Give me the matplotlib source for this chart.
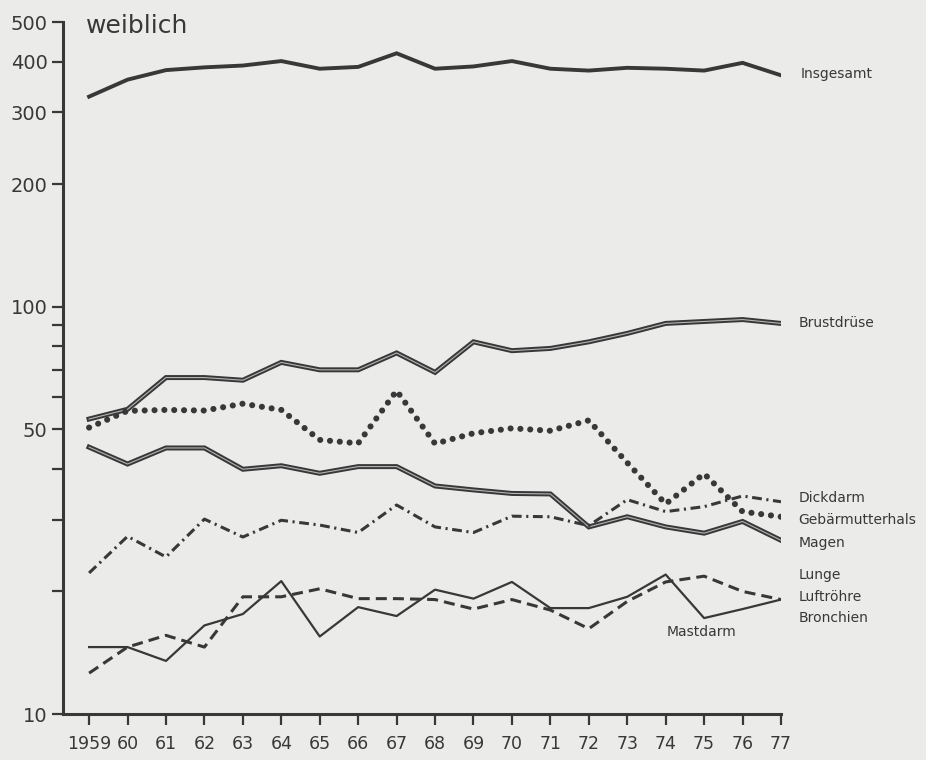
import matplotlib
matplotlib.use("Agg")
import matplotlib.pyplot as plt
from matplotlib.ticker import FixedLocator, NullFormatter

# Sterbefaelle je 100 000, weiblich (log scale)
years = list(range(1959, 1978))
insgesamt = [328, 361, 381, 387, 391, 401, 384, 388, 419, 384,
             389, 401, 384, 380, 386, 384, 380, 397, 370]
brustdruese = [53, 56, 67, 67, 66, 73, 70, 70, 77, 69,
               82, 78, 79, 82, 86, 91, 92, 93, 91]
gebaermutterhals = [50.5, 55.5, 55.8, 55.6, 57.8, 55.8, 47.1, 46.2, 62.2, 46.1,
                    48.9, 50.3, 49.6, 52.6, 41.4, 32.8, 38.9, 31.4, 30.5]
magen = [45.2, 41.1, 45.0, 45.0, 39.9, 40.7, 39.0, 40.5, 40.5, 36.3,
         35.5, 34.8, 34.7, 28.8, 30.5, 28.8, 27.8, 29.7, 26.7]
dickdarm = [22.2, 27.3, 24.3, 30.1, 27.2, 29.9, 29.1, 27.9, 32.6, 28.8,
            27.9, 30.6, 30.5, 29.0, 33.6, 31.4, 32.3, 34.3, 33.2]
mastdarm = [14.6, 14.6, 13.5, 16.5, 17.6, 21.2, 15.5, 18.3, 17.4, 20.2,
            19.2, 21.1, 18.2, 18.2, 19.4, 22.0, 17.2, 18.1, 19.1]
lunge = [12.6, 14.6, 15.6, 14.6, 19.4, 19.4, 20.3, 19.2, 19.2, 19.1,
         18.1, 19.1, 18.0, 16.2, 18.9, 21.1, 21.8, 20.0, 19.1]

major_ticks = [10, 50, 100, 200, 300, 400, 500]
minor_ticks = [20, 30, 40, 60, 70, 80, 90]
xlabels = ['1959'] + [str(y)[2:] for y in years[1:]]

bg = '#ebebea'
ink = '#383838'

fig = plt.figure(figsize=(9.26, 7.6), dpi=100, facecolor=bg)
ax = fig.add_axes([0.068, 0.0605, 0.7754, 0.9105])
ax.set_facecolor(bg)

ax.plot(years, insgesamt, color=ink, lw=2.8, solid_joinstyle='miter')

# double lines: dark line with a light core
for vals in (brustdruese, magen):
    ax.plot(years, vals, color=ink, lw=3.6, solid_joinstyle='miter')
    ax.plot(years, vals, color='#b4b4b4', lw=0.8, solid_joinstyle='miter')

ax.plot(years, gebaermutterhals, color=ink, lw=4.4,
        linestyle=(0, (0.01, 1.6)), dash_capstyle='round')
ax.plot(years, dickdarm, color=ink, lw=2.2,
        linestyle=(0, (3.2, 1.5, 0.7, 1.5)))
ax.plot(years, lunge, color=ink, lw=2.2, linestyle=(0, (3.6, 2.0)))
ax.plot(years, mastdarm, color=ink, lw=1.6)

ax.set_yscale('log')
ax.set_ylim(10, 500)
ax.set_xlim(1958.32, 1977)
ax.yaxis.set_major_locator(FixedLocator(major_ticks))
ax.yaxis.set_minor_locator(FixedLocator(minor_ticks))
ax.yaxis.set_minor_formatter(NullFormatter())
ax.set_yticklabels([str(t) for t in major_ticks])
ax.set_xticks(years)
ax.set_xticklabels(xlabels)

for side in ('top', 'right'):
    ax.spines[side].set_visible(False)
for side in ('left', 'bottom'):
    ax.spines[side].set_color(ink)
    ax.spines[side].set_linewidth(2.2)

ax.tick_params(axis='both', which='both', direction='out', length=8,
               width=1.6, color=ink, labelcolor=ink)
ax.tick_params(axis='y', labelsize=14, pad=3)
ax.tick_params(axis='x', labelsize=12.5, pad=7)

ax.text(1958.93, 470, 'weiblich', fontsize=18, color=ink, va='baseline')

lab = dict(fontsize=10, color=ink, va='center', ha='left', clip_on=False)
ax.text(1977.52, 372, 'Insgesamt', **lab)
ax.text(1977.47, 91.3, 'Brustdrüse', **lab)
ax.text(1977.45, 33.9, 'Dickdarm', **lab)
ax.text(1977.45, 30.0, 'Gebärmutterhals', **lab)
ax.text(1977.45, 26.3, 'Magen', **lab)
ax.text(1977.45, 21.9, 'Lunge', **lab)
ax.text(1977.45, 19.4, 'Luftröhre', **lab)
ax.text(1977.45, 17.2, 'Bronchien', **lab)
ax.text(1974.02, 15.9, 'Mastdarm', **lab)

fig.savefig('out.png', dpi=100, facecolor=bg)
